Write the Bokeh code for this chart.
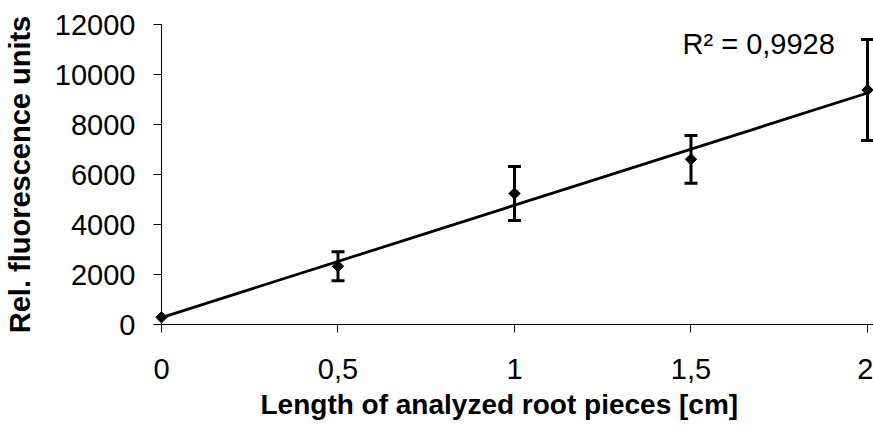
import numpy as np
from bokeh.plotting import figure
from bokeh.models import (ColumnDataSource, Whisker, TeeHead, FixedTicker, Label,
                          Range1d, Title)
from bokeh.embed import file_html
from bokeh.resources import INLINE

# ---- data ----
lengths_cm = [0, 0.5, 1, 1.5, 2]
fluorescence = [290, 2330, 5240, 6606, 9380]
error = [0, 580, 1080, 955, 2020]
y_ticks = [0, 2000, 4000, 6000, 8000, 10000, 12000]
x_ticks = [0, 0.5, 1, 1.5, 2]
x_tick_labels = ["0", "0,5", "1", "1,5", "2"]
r2_text = "R\u00b2 = 0,9928"
x_title = "Length of analyzed root pieces [cm]"
y_title = "Rel. fluorescence units"

FONT = "Liberation Sans"

p = figure(width=873, height=430, output_backend="svg", toolbar_location=None,
           x_range=Range1d(0, 2.017), y_range=Range1d(0, 12000),
           min_border_left=161, min_border_right=0, min_border_top=24,
           min_border_bottom=106)
p.background_fill_color = "white"
p.border_fill_color = "white"
p.outline_line_color = None
p.grid.visible = False

for ax in (p.xaxis[0], p.yaxis[0]):
    ax.axis_line_color = "black"
    ax.axis_line_width = 1
    ax.major_tick_line_color = "black"
    ax.major_tick_in = 0
    ax.major_tick_out = 8
    ax.minor_tick_line_color = None
    ax.major_label_text_font = FONT
    ax.major_label_text_font_size = "29px"
    ax.major_label_text_color = "black"
    ax.axis_label_text_font = FONT
    ax.axis_label_text_font_size = "29px"
    ax.axis_label_text_font_style = "bold"
    ax.axis_label_text_color = "black"

xa = p.xaxis[0]
xa.ticker = FixedTicker(ticks=x_ticks)
xa.major_label_overrides = dict(zip(x_ticks, x_tick_labels))
xa.major_label_standoff = 26

ya = p.yaxis[0]
ya.ticker = FixedTicker(ticks=y_ticks)
ya.axis_label = y_title
ya.major_label_standoff = 18
ya.axis_label_standoff = 16

# x-axis title, placed as in the reference (left of the frame centre)
p.add_layout(Title(text=x_title, align="left", offset=99, standoff=10,
                   text_font=FONT, text_font_size="28px",
                   text_font_style="bold", text_color="black"), "below")

# linear trend line from the data
coef = np.polyfit(lengths_cm, fluorescence, 1)
tx = [lengths_cm[0], lengths_cm[-1]]
ty = list(np.polyval(coef, tx))
p.line(tx, ty, line_color="black", line_width=2.8, level="overlay")

# error bars
idx = [i for i, e in enumerate(error) if e > 0]
err_src = ColumnDataSource(data=dict(
    x=[lengths_cm[i] for i in idx],
    upper=[fluorescence[i] + error[i] for i in idx],
    lower=[fluorescence[i] - error[i] for i in idx],
))
p.add_layout(Whisker(base="x", upper="upper", lower="lower", source=err_src,
                     line_color="black", line_width=3,
                     upper_head=TeeHead(size=13, line_color="black", line_width=3),
                     lower_head=TeeHead(size=13, line_color="black", line_width=3)))

# data points
p.scatter(lengths_cm, fluorescence, marker="square", angle=np.pi / 4, size=8,
          fill_color="black", line_color="black", line_width=1, level="overlay")

p.add_layout(Label(x=1.476, y=11240, text=r2_text, text_font=FONT,
                   text_font_size="29px", text_color="black",
                   text_baseline="alphabetic", text_align="left"))

open("out.html", "w").write(file_html(p, INLINE))
